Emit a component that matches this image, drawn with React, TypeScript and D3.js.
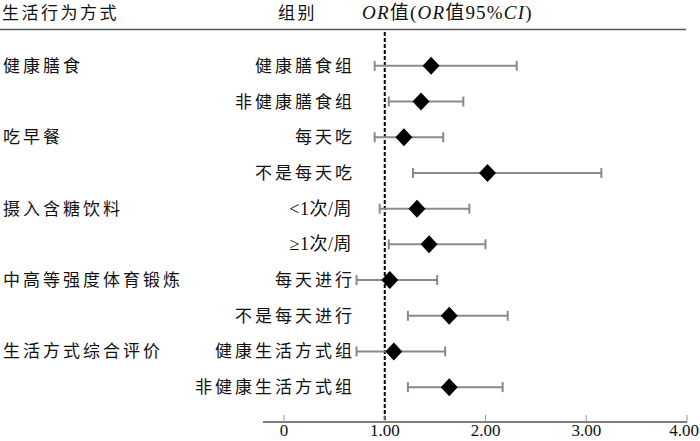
import React from "react";
import * as d3 from "d3";

const categories = ["健康膳食", "", "吃早餐", "", "摄入含糖饮料", "", "中高等强度体育锻炼", "", "生活方式综合评价", ""];
const groups = ["健康膳食组", "非健康膳食组", "每天吃", "不是每天吃", "<1次/周", "≥1次/周", "每天进行", "不是每天进行", "健康生活方式组", "非健康生活方式组"];
const orValues = [1.46, 1.36, 1.19, 2.02, 1.32, 1.44, 1.05, 1.64, 1.09, 1.64];
const ciLow = [0.9, 1.04, 0.9, 1.28, 0.95, 1.04, 0.72, 1.23, 0.72, 1.23];
const ciHigh = [2.31, 1.78, 1.58, 3.15, 1.84, 2.0, 1.52, 2.22, 1.6, 2.17];
const ticks = [0, 1, 2, 3, 4];
const tickLabels = ["0", "1.00", "2.00", "3.00", "4.00"];

const W = 700;
const H = 441;

const diamondType = {
  draw(context: any, size: number) {
    const hw = Math.sqrt(size) / 2;
    const hh = hw * 1.06;
    context.moveTo(0, -hh);
    context.lineTo(hw, 0);
    context.lineTo(0, hh);
    context.lineTo(-hw, 0);
    context.closePath();
  },
};

export default function App() {
  const x = d3.scaleLinear().domain([0, 4]).range([284, 687]);
  const y = d3
    .scaleBand<number>()
    .domain(d3.range(groups.length))
    .range([48, 405])
    .paddingInner(0);
  const yc = (i: number) => (y(i) as number) + y.bandwidth() / 2;
  const axisY = 422;
  const serif = "'Liberation Serif', 'Noto Sans CJK SC', serif";
  const diamond = d3.symbol().type(diamondType as any).size(17 * 17);

  return (
    <svg width={W} height={H} style={{ position: "absolute", left: 0, top: 0, background: "#fff" }} fontFamily={serif}>
      {/* header */}
      <text x={2} y={19} fontSize={17} letterSpacing={2.5} fill="#111">生活行为方式</text>
      <text x={278} y={19} fontSize={17} letterSpacing={2.5} fill="#111">组别</text>
      <text x={362} y={19} fontSize={19} fill="#111" letterSpacing={1.2}>
        <tspan fontStyle="italic">OR</tspan>
        <tspan>值(</tspan>
        <tspan fontStyle="italic">OR</tspan>
        <tspan>值95%</tspan>
        <tspan fontStyle="italic">CI</tspan>
        <tspan>)</tspan>
      </text>
      <line x1={0} x2={686} y1={29.5} y2={29.5} stroke="#555" strokeWidth={1.5} />

      {/* reference line */}
      <line x1={x(1)} x2={x(1)} y1={32} y2={axisY} stroke="#000" strokeWidth={2} strokeDasharray="4,2" />

      {/* rows */}
      {groups.map((g, i) => {
        const latin = /[<≥]/.test(g);
        return (
          <g key={i}>
            {categories[i] && (
              <text x={3} y={yc(i) + 6} fontSize={17} letterSpacing={3} fill="#111">{categories[i]}</text>
            )}
            <text
              x={latin ? 352 : 355}
              y={yc(i) + 6}
              fontSize={latin ? 18 : 17}
              letterSpacing={latin ? 0.5 : 3}
              textAnchor="end"
              fill="#111"
            >
              {g}
            </text>
            <line x1={x(ciLow[i])} x2={x(ciHigh[i])} y1={yc(i)} y2={yc(i)} stroke="#8a8a8a" strokeWidth={2} />
            <line x1={x(ciLow[i])} x2={x(ciLow[i])} y1={yc(i) - 5} y2={yc(i) + 5} stroke="#8a8a8a" strokeWidth={2} />
            <line x1={x(ciHigh[i])} x2={x(ciHigh[i])} y1={yc(i) - 5} y2={yc(i) + 5} stroke="#8a8a8a" strokeWidth={2} />
            <path d={diamond() as string} transform={`translate(${x(orValues[i])},${yc(i)})`} fill="#000" />
          </g>
        );
      })}

      {/* x axis */}
      <line x1={263} x2={x(4)} y1={axisY} y2={axisY} stroke="#555" strokeWidth={1.5} />
      {ticks.map((t, i) => {
        const last = i === ticks.length - 1;
        return (
          <g key={t}>
            <line x1={x(t)} x2={x(t)} y1={axisY} y2={axisY - 7} stroke="#999" strokeWidth={1} />
            <text
              x={last ? W - 1 : x(t)}
              y={436}
              fontSize={17}
              fontFamily="'Liberation Serif', serif"
              textAnchor={last ? "end" : "middle"}
              fill="#111"
            >
              {tickLabels[i]}
            </text>
          </g>
        );
      })}
    </svg>
  );
}
